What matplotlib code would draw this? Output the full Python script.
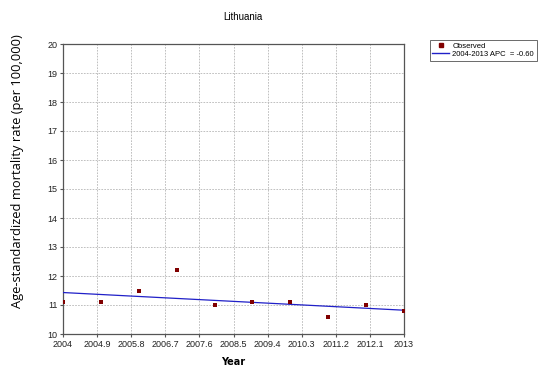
import matplotlib
matplotlib.use("Agg")
import matplotlib.pyplot as plt
from matplotlib.lines import Line2D

years = [2004, 2005, 2006, 2007, 2008, 2009, 2010, 2011, 2012, 2013]
observed = [11.1, 11.1, 11.5, 12.2, 11.0, 11.1, 11.1, 10.6, 11.0, 10.8]
trend_years = [2004, 2013]
trend_vals = [11.43, 10.82]
xticks = [2004, 2004.9, 2005.8, 2006.7, 2007.6, 2008.5, 2009.4, 2010.3, 2011.2, 2012.1, 2013]
xtick_labels = ["2004", "2004.9", "2005.8", "2006.7", "2007.6", "2008.5", "2009.4", "2010.3", "2011.2", "2012.1", "2013"]
yticks = [10, 11, 12, 13, 14, 15, 16, 17, 18, 19, 20]

W, H = 552, 368
fig = plt.figure(figsize=(W / 100, H / 100), dpi=100)
ax = fig.add_axes([63 / W, 1 - 334 / H, (404 - 63) / W, (334 - 44) / H])

ax.plot(trend_years, trend_vals, color="#2020c8", lw=0.9, zorder=3)
ax.scatter(years, observed, marker="s", s=11, color="#800000", zorder=4, linewidths=0)

ax.set_xlim(2004, 2013)
ax.set_ylim(10, 20)
ax.set_xticks(xticks)
ax.set_xticklabels(xtick_labels)
ax.set_yticks(yticks)
ax.grid(True, color="#b5b5b5", linestyle=(0, (2, 1.5)), lw=0.6)
for sp in ax.spines.values():
    sp.set_color("#555555")
    sp.set_linewidth(0.9)
ax.tick_params(axis="both", labelsize=6.5, length=2, color="#555555", pad=2, labelcolor="#222222")
for lab in ax.get_xticklabels() + ax.get_yticklabels():
    lab.set_family("Liberation Sans")

fig.text(243 / W, 1 - 17 / H, "Lithuania", ha="center", va="center", fontsize=7, family="Liberation Sans")
fig.text(233 / W, 1 - 362 / H, "Year", ha="center", va="center", fontsize=7, fontweight="bold", family="DejaVu Sans")
fig.text(18 / W, 1 - 171 / H, "Age-standardized mortality rate (per 100,000)", rotation=90,
         ha="center", va="center", fontsize=9.3, family="Open Sans")

handles = [
    Line2D([], [], marker="s", ls="none", color="#800000", markersize=2.2),
    Line2D([], [], color="#2020c8", lw=1.0),
]
leg = fig.legend(handles, ["Observed", "2004-2013 APC  = -0.60"], loc="upper left",
                 bbox_to_anchor=(426 / W, 1 - 36 / H), frameon=True, fancybox=False,
                 borderpad=0.35, handlelength=2.2, handletextpad=0.4, labelspacing=0.1,
                 prop={"family": "Liberation Sans", "size": 5.5})
leg.get_frame().set_edgecolor("#444444")
leg.get_frame().set_linewidth(0.7)

fig.savefig("out.png", dpi=100)
